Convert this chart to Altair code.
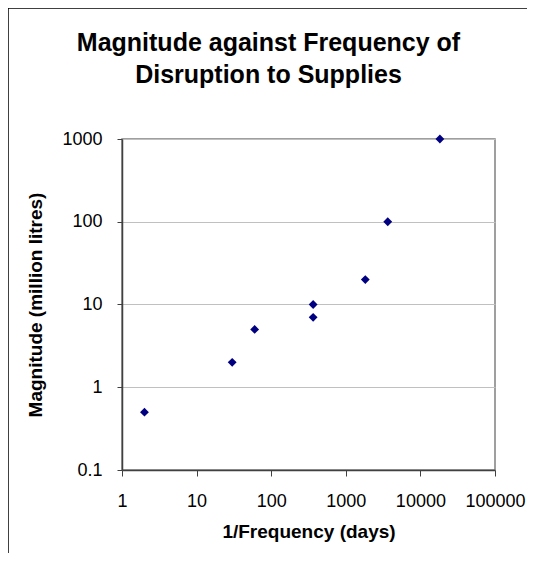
import altair as alt
import pandas as pd

# 1/Frequency (days) and Magnitude (million litres)
inv_freq = [2, 30, 60, 365, 365, 1825, 3650, 18250]
magnitude = [0.5, 2, 5, 10, 7, 20, 100, 1000]

x_ticks = [1, 10, 100, 1000, 10000, 100000]
y_ticks = [0.1, 1, 10, 100, 1000]

title_line1 = "Magnitude against Frequency of"
title_line2 = "Disruption to Supplies"
x_title = "1/Frequency (days)"
y_title = "Magnitude (million litres)"

df = pd.DataFrame({"x": inv_freq, "y": magnitude})

FONT = "Liberation Sans"
W, H = 373, 331
PAD_L, PAD_T = 114, 131

points = alt.Chart(df).mark_point(
    shape="diamond", filled=True, color="#000080", size=78, opacity=1
).encode(
    x=alt.X("x:Q", scale=alt.Scale(type="log", domain=[1, 100000], nice=False),
            axis=alt.Axis(values=x_ticks, format="~r", title=x_title, grid=False,
                          tickSize=6, labelPadding=16, labelOverlap=False,
                          labelFlush=False, labelBound=False,
                          titleX=W / 2, titleY=61,
                          titleBaseline="middle", titleAlign="center")),
    y=alt.Y("y:Q", scale=alt.Scale(type="log", domain=[0.1, 1000], nice=False),
            axis=alt.Axis(values=y_ticks, format="~r", title=y_title, grid=True,
                          tickSize=5, labelPadding=15, labelOverlap=False,
                          labelFlush=False, labelBound=False,
                          titleX=-87, titleY=H / 2,
                          titleAngle=-90, titleBaseline="middle", titleAlign="center")),
)

frame = pd.DataFrame({"a": [0]})
left_border = alt.Chart(frame).mark_rule(color="black", strokeWidth=1.5).encode(
    x=alt.value(-PAD_L), y=alt.value(-PAD_T), y2=alt.value(440)
)
top_border = alt.Chart(frame).mark_rule(color="black", strokeWidth=1.5).encode(
    x=alt.value(-PAD_L), x2=alt.value(430), y=alt.value(-PAD_T)
)

title_style = dict(font=FONT, fontSize=25, fontWeight="bold", color="black",
                   align="center", baseline="middle")
t1 = alt.Chart(pd.DataFrame({"t": [title_line1]})).mark_text(**title_style).encode(
    text="t:N", x=alt.value(W / 2 - 40), y=alt.value(43 - 139)
)
t2 = alt.Chart(pd.DataFrame({"t": [title_line2]})).mark_text(**title_style).encode(
    text="t:N", x=alt.value(W / 2 - 40), y=alt.value(75 - 139)
)

chart = alt.layer(left_border, top_border, t1, t2, points).properties(
    width=W, height=H,
    autosize=alt.AutoSizeParams(type="none"),
    padding={"left": PAD_L, "top": PAD_T, "right": 32, "bottom": 83},
).configure_view(
    stroke="#808080", strokeWidth=1.5
).configure_axis(
    labelFont=FONT, labelFontSize=18, labelColor="black",
    titleFont=FONT, titleFontSize=19, titleFontWeight="bold", titleColor="black",
    domainColor="#404040", domainWidth=1.5, tickColor="#404040", tickWidth=1,
    gridColor="#c0c0c0", gridWidth=1,
)

chart.save("out.html", embed_options={"renderer": "svg", "actions": False})
